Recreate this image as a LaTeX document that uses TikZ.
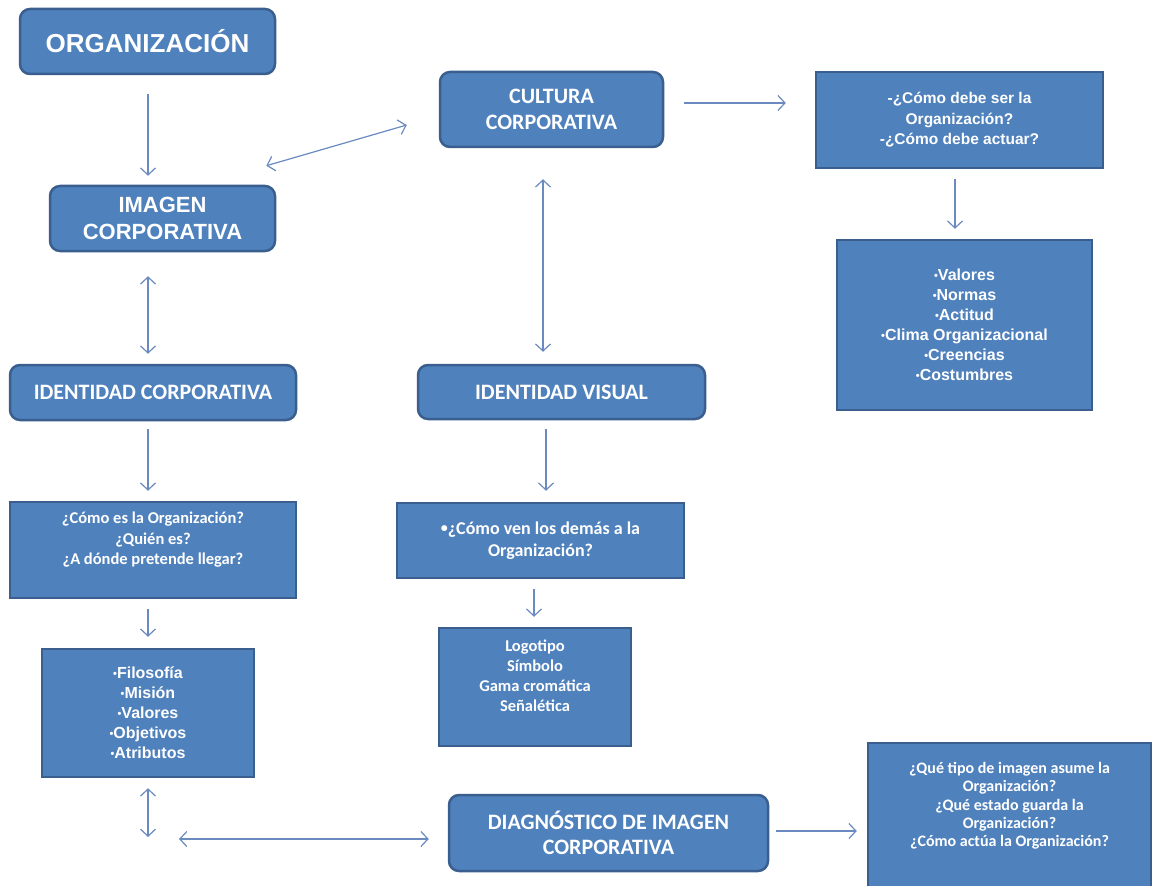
\documentclass[tikz,border=0pt]{standalone}
\usepackage{fontspec}
\setmainfont{Liberation Sans}
\newfontfamily\arialf{Liberation Sans Bold}
\newfontfamily\calif{Carlito Bold}
\usetikzlibrary{arrows.meta}
\definecolor{boxfill}{HTML}{4F81BD}
\definecolor{boxline}{HTML}{3A5F8E}
\definecolor{arrcol}{HTML}{6A8AC0}
\newcommand{\fs}[2]{\fontsize{#1}{#2}\selectfont}
\newcommand{\topbox}[3]{\parbox[c][#1][t]{#2}{\centering #3}}
\newcommand{\bul}{{\fs{11}{11}\raisebox{0.12em}{•}}}
\newcommand{\midbul}{{\fs{14}{14}\raisebox{0.1em}{•}}}
\begin{document}
\begin{tikzpicture}[x=1pt,y=-1pt,
  boxbase/.style={draw=boxline, fill=boxfill, line width=2.5pt, text=white, align=center, inner sep=0pt},
  rbox/.style={boxbase, rounded corners=10pt},
  sbox/.style={boxbase},
  tip/.tip={Straight Barb[length=7pt,width=15pt]},
  arr/.style={draw=arrcol, line width=1.2pt, -tip},
  darr/.style={draw=arrcol, line width=1.2pt, tip-tip}]
\useasboundingbox (0,0) rectangle (1155,885);
\clip (0,0) rectangle (1155,885);
\fill[white] (0,0) rectangle (1155,885);

% rounded title boxes
\node[rbox, minimum width=255pt, minimum height=65pt, font=\arialf\fs{26}{30}] (org) at (147.5,41.5) {ORGANIZACIÓN};
\node[rbox, minimum width=225pt, minimum height=65pt, font=\arialf\fs{22}{27}] (img) at (162.5,218.5) {IMAGEN\\CORPORATIVA};
\node[rbox, minimum width=223pt, minimum height=75pt, font=\calif\fs{22}{26}] (cult) at (551.5,109.5) {CULTURA\\CORPORATIVA};
\node[rbox, minimum width=286pt, minimum height=55pt, font=\calif\fs{22}{26}] (idc) at (153,392.5) {IDENTIDAD CORPORATIVA};
\node[rbox, minimum width=287pt, minimum height=54pt, font=\calif\fs{22}{26}] (idv) at (561.5,392) {IDENTIDAD VISUAL};
\node[rbox, minimum width=319pt, minimum height=76pt, font=\calif\fs{22}{25}] (diag) at (608.5,833) {DIAGNÓSTICO DE IMAGEN\\CORPORATIVA};

% square content boxes
\node[sbox, minimum width=287pt, minimum height=96pt, font=\arialf\fs{15.5}{20.5}] (q1) at (959.5,120) {-¿Cómo debe ser la\\Organización?\\-¿Cómo debe actuar?};
\node[sbox, minimum width=255pt, minimum height=170pt, font=\arialf\fs{16}{20}] (val) at (964.5,325) {\bul Valores\\\bul Normas\\\bul Actitud\\\bul Clima Organizacional\\\bul Creencias\\\bul Costumbres};
\node[sbox, minimum width=286pt, minimum height=96pt, font=\calif\fs{16.5}{20.5}] (q2) at (153,550) {\topbox{96pt}{286pt}{\rule{0pt}{21.5pt}¿Cómo es la Organización?\\¿Quién es?\\¿A dónde pretende llegar?}};
\node[sbox, minimum width=212pt, minimum height=128pt, font=\arialf\fs{16}{20}] (fil) at (148,713) {\bul Filosofía\\\bul Misión\\\bul Valores\\\bul Objetivos\\\bul Atributos};
\node[sbox, minimum width=287pt, minimum height=75pt, font=\calif\fs{18}{22}] (q3) at (540.5,540.5) {\midbul¿Cómo ven los demás a la\\Organización?};
\node[sbox, minimum width=192pt, minimum height=118pt, font=\calif\fs{16.5}{20}] (logo) at (535,687) {\topbox{118pt}{192pt}{\rule{0pt}{23.5pt}Logotipo\\Símbolo\\Gama cromática\\Señalética}};
\node[sbox, minimum width=283pt, minimum height=150pt, font=\calif\fs{16}{18.3}] (q4) at (1009.5,818) {\topbox{150pt}{283pt}{\rule{0pt}{30.5pt}¿Qué tipo de imagen asume la\\Organización?\\¿Qué estado guarda la\\Organización?\\¿Cómo actúa la Organización?}};

% free ends
\coordinate (c1) at (148,837);
\coordinate (c2) at (179,839);

% connectors
\draw[arr] ([shift={(0.5,19)}]org.south) -- ([shift={(-14.5,-9)}]img.north);
\draw[darr] ([shift={(-10,-19)}]img.north east) -- ([shift={(-32,15.5)}]cult.west);
\draw[arr] ([shift={(20,-6.5)}]cult.east) -- ([shift={(-29,-17)}]q1.west);
\draw[arr] ([shift={(-4.5,10)}]q1.south) -- ([shift={(-9.5,-10)}]val.north);
\draw[darr] ([shift={(-14.5,24)}]img.south) -- ([shift={(-5,-10)}]idc.north);
\draw[darr] ([shift={(-8.5,31)}]cult.south) -- ([shift={(-18.5,-12)}]idv.north);
\draw[arr] ([shift={(-5,8)}]idc.south) -- ([shift={(-5,-10)}]q2.north);
\draw[arr] ([shift={(-5,10)}]q2.south) -- ([shift={(0,-11)}]fil.north);
\draw[darr] ([shift={(0,10)}]fil.south) -- (c1);
\draw[darr] (c2) -- ([shift={(-19,6)}]diag.west);
\draw[arr] ([shift={(7,-2)}]diag.east) -- ([shift={(-10,13)}]q4.west);
\draw[arr] ([shift={(-15.5,9)}]idv.south) -- ([shift={(5.5,-11)}]q3.north);
\draw[arr] ([shift={(-6.5,10)}]q3.south) -- ([shift={(-1,-10)}]logo.north);
\end{tikzpicture}
\end{document}
